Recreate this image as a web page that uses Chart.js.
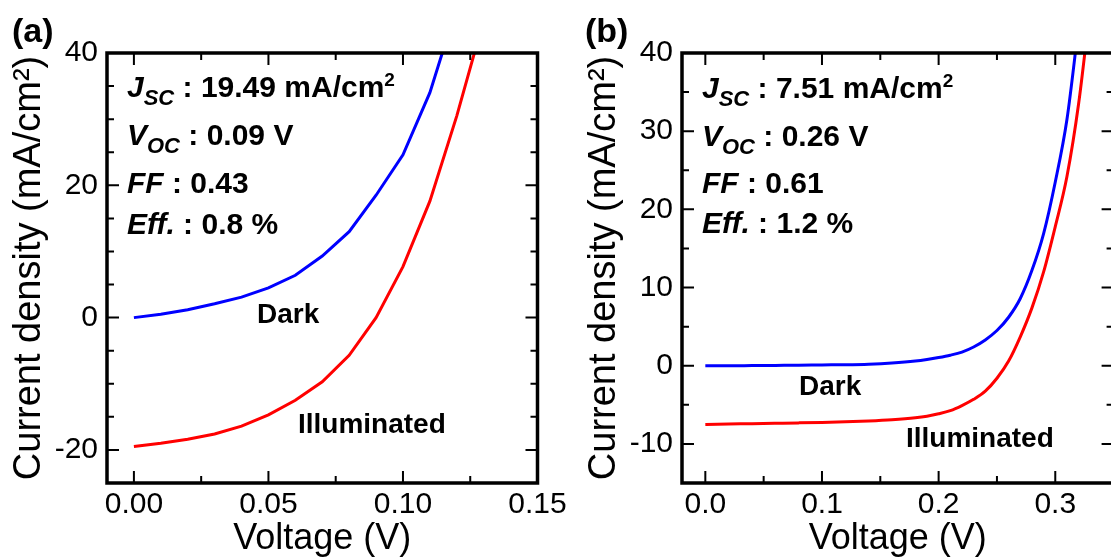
<!DOCTYPE html>
<html>
<head>
<meta charset="utf-8">
<script src="https://cdn.jsdelivr.net/npm/chart.js@4.4.1/dist/chart.umd.min.js"></script>
<style>
    html, body { margin: 0; padding: 0; background: #fff; overflow: hidden; width: 1111px; height: 559px; }
    canvas { position: absolute; top: 0; }
    #panelA { left: 0; }
    #panelB { left: 575px; }
</style>
</head>
<body>
<canvas id="panelA" width="575" height="559"></canvas>
<canvas id="panelB" width="565" height="559"></canvas>
<script>
const FUENTE = "'Liberation Sans', Arial, sans-serif";

// Panel (a): datos
const voltajeA = [0, 0.01, 0.02, 0.03, 0.04, 0.05, 0.06, 0.07, 0.08, 0.09, 0.10, 0.11, 0.12, 0.13];
const oscuroA = [0, 0.5, 1.2, 2.1, 3.1, 4.5, 6.4, 9.3, 13.0, 18.5, 24.6, 34.0, 47.0];
const iluminadoA = [-19.49, -19.0, -18.4, -17.6, -16.4, -14.7, -12.5, -9.7, -5.7, 0.0, 7.7, 17.6, 30.5, 45.0];
const ticksXA = [0, 0.05, 0.10, 0.15];
const ticksYA = [-20, 0, 20, 40];
const menoresXA = [0, 0.025, 0.05, 0.075, 0.10, 0.125];
const menoresYA = [-20, -15, -10, -5, 0, 5, 10, 15, 20, 25, 30, 35];
const statsA = ['19.49', '0.09', '0.43', '0.8'];

// Panel (b)
const voltajeB = [0, 0.02, 0.04, 0.06, 0.08, 0.10, 0.12, 0.14, 0.16, 0.18, 0.19, 0.20, 0.21, 0.22, 0.23, 0.24, 0.25, 0.26, 0.27, 0.28, 0.29, 0.30, 0.31, 0.32, 0.33];
const oscuroB = [0, 0, 0.02, 0.04, 0.06, 0.1, 0.13, 0.2, 0.35, 0.6, 0.8, 1.05, 1.35, 1.75, 2.4, 3.3, 4.5, 6.2, 8.6, 12.2, 16.9, 23.5, 31.5, 43.5];
const iluminadoB = [-7.51, -7.46, -7.41, -7.36, -7.31, -7.25, -7.17, -7.06, -6.9, -6.65, -6.45, -6.15, -5.75, -5.1, -4.3, -3.25, -1.6, 0.6, 3.7, 7.4, 12.0, 17.8, 24.2, 33.5, 46.0];
const ticksXB = [0, 0.1, 0.2, 0.3];
const ticksYB = [-10, 0, 10, 20, 30, 40];
const menoresXB = [0, 0.05, 0.1, 0.15, 0.2, 0.25, 0.3];
const menoresYB = [-10, -5, 0, 5, 10, 15, 20, 25, 30, 35];
const statsB = ['7.51', '0.26', '0.61', '1.2'];

Chart.defaults.font.family = FUENTE;
Chart.defaults.color = '#000';

function puntos(xs, ys) {
    return ys.map((y, i) => ({ x: xs[i], y: y }));
}

// Renglones de texto con subíndices / superíndices
function renglonesStats(s) {
    return [
        [{ t: 'J', it: 1, tam: 30 }, { t: 'SC', it: 1, tam: 22, dy: 8 }, { t: ' : ' + s[0] + ' mA/cm', tam: 30 }, { t: '2', tam: 19, dy: -11 }],
        [{ t: 'V', it: 1, tam: 30 }, { t: 'OC', it: 1, tam: 22, dy: 8 }, { t: ' : ' + s[1] + ' V', tam: 30 }],
        [{ t: 'FF', it: 1, tam: 30 }, { t: ' : ' + s[2], tam: 30 }],
        [{ t: 'Eff.', it: 1, tam: 30 }, { t: ' : ' + s[3] + ' %', tam: 30 }]
    ];
}

function dibujarRenglon(ctx, x, y, partes) {
    partes.forEach(p => {
        ctx.font = (p.it ? 'italic ' : '') + 'bold ' + p.tam + 'px ' + FUENTE;
        ctx.fillText(p.t, x, y + (p.dy || 0));
        x += ctx.measureText(p.t).width;
    });
}

// Marco con ticks hacia adentro + textos del panel
const marcoPlugin = {
    id: 'marco',
    afterDatasetsDraw(chart, args, opts) {
        const { ctx, chartArea: a, scales: { x, y } } = chart;
        ctx.save();
        ctx.strokeStyle = '#000';
        ctx.lineWidth = 2;
        ctx.beginPath();
        opts.menoresX.forEach(v => {
            const px = x.getPixelForValue(v);
            const len = opts.mayoresX.includes(v) ? 12 : 7;
            ctx.moveTo(px, a.bottom); ctx.lineTo(px, a.bottom - len);
            ctx.moveTo(px, a.top); ctx.lineTo(px, a.top + len);
        });
        opts.menoresY.forEach(v => {
            const py = y.getPixelForValue(v);
            const len = opts.mayoresY.includes(v) ? 12 : 7;
            ctx.moveTo(a.left, py); ctx.lineTo(a.left + len, py);
            ctx.moveTo(a.right, py); ctx.lineTo(a.right - len, py);
        });
        ctx.stroke();
        ctx.lineWidth = 3.5;
        ctx.strokeRect(a.left, a.top, a.right - a.left, a.bottom - a.top);

        ctx.fillStyle = '#000';
        ctx.textBaseline = 'alphabetic';
        ctx.textAlign = 'left';
        renglonesStats(opts.stats).forEach((r, i) => dibujarRenglon(ctx, 127, opts.baseStats[i], r));

        ctx.font = 'bold 28px ' + FUENTE;
        ctx.fillText('Dark', opts.oscuro[0], opts.oscuro[1]);
        ctx.fillText('Illuminated', opts.ilum[0], opts.ilum[1]);

        ctx.font = 'bold 34px ' + FUENTE;
        ctx.fillText(opts.etiqueta, opts.posEtiqueta[0], opts.posEtiqueta[1]);
        ctx.restore();
    }
};

function crearPanel(id, cfg) {
    return new Chart(document.getElementById(id), {
        type: 'line',
        data: {
            datasets: [
                {
                    data: puntos(cfg.voltaje, cfg.oscuro),
                    borderColor: '#0000ff', borderWidth: 3, pointRadius: 0,
                    tension: cfg.suave ? 0.4 : 0, cubicInterpolationMode: cfg.suave ? 'monotone' : 'default'
                },
                {
                    data: puntos(cfg.voltaje, cfg.iluminado),
                    borderColor: '#ff0000', borderWidth: 3, pointRadius: 0,
                    tension: cfg.suave ? 0.4 : 0, cubicInterpolationMode: cfg.suave ? 'monotone' : 'default'
                }
            ]
        },
        options: {
            responsive: false,
            animation: false,
            devicePixelRatio: 1,
            layout: { padding: { left: 0, right: cfg.padDer, top: 53, bottom: 0 } },
            plugins: {
                legend: { display: false },
                tooltip: { enabled: false },
                marco: cfg.marco
            },
            scales: {
                x: {
                    type: 'linear',
                    min: cfg.xMin, max: cfg.xMax,
                    afterBuildTicks: s => { s.ticks = cfg.ticksX.map(v => ({ value: v })); },
                    afterFit: s => { s.height = 76; },
                    grid: { display: false, drawTicks: false },
                    border: { display: false },
                    ticks: { font: { size: 30 }, padding: 4, maxRotation: 0, autoSkip: false, callback: v => v.toFixed(cfg.decX) },
                    title: { display: true, text: 'Voltage (V)', font: { size: 36, lineHeight: 1.1 }, padding: 0 }
                },
                y: {
                    type: 'linear',
                    min: cfg.yMin, max: cfg.yMax,
                    afterBuildTicks: s => { s.ticks = cfg.ticksY.map(v => ({ value: v })); },
                    afterFit: s => { s.width = 107; },
                    grid: { display: false, drawTicks: false },
                    border: { display: false },
                    ticks: { font: { size: 30 }, padding: 9, autoSkip: false },
                    title: { display: true, text: 'Current density (mA/cm²)', font: { size: 38, lineHeight: 1.1 }, padding: { top: 9, bottom: 0 } }
                }
            }
        },
        plugins: [marcoPlugin]
    });
}

crearPanel('panelA', {
    voltaje: voltajeA, oscuro: oscuroA, iluminado: iluminadoA, suave: false,
    xMin: -0.01, xMax: 0.15, yMin: -25, yMax: 40, decX: 2,
    ticksX: ticksXA, ticksY: ticksYA, padDer: 37.5,
    marco: {
        menoresX: menoresXA, mayoresX: ticksXA, menoresY: menoresYA, mayoresY: ticksYA,
        stats: statsA, baseStats: [97, 145, 193, 234],
        oscuro: [257, 323], ilum: [298, 433],
        etiqueta: '(a)', posEtiqueta: [12, 42]
    }
});

crearPanel('panelB', {
    voltaje: voltajeB, oscuro: oscuroB, iluminado: iluminadoB, suave: true,
    xMin: -0.02, xMax: 0.35, yMin: -15, yMax: 40, decX: 1,
    ticksX: ticksXB, ticksY: ticksYB, padDer: 26.4,
    marco: {
        menoresX: menoresXB, mayoresX: ticksXB, menoresY: menoresYB, mayoresY: ticksYB,
        stats: statsB, baseStats: [98, 146, 193, 233],
        oscuro: [224, 395], ilum: [331, 447],
        etiqueta: '(b)', posEtiqueta: [10, 42]
    }
});
</script>
</body>
</html>
